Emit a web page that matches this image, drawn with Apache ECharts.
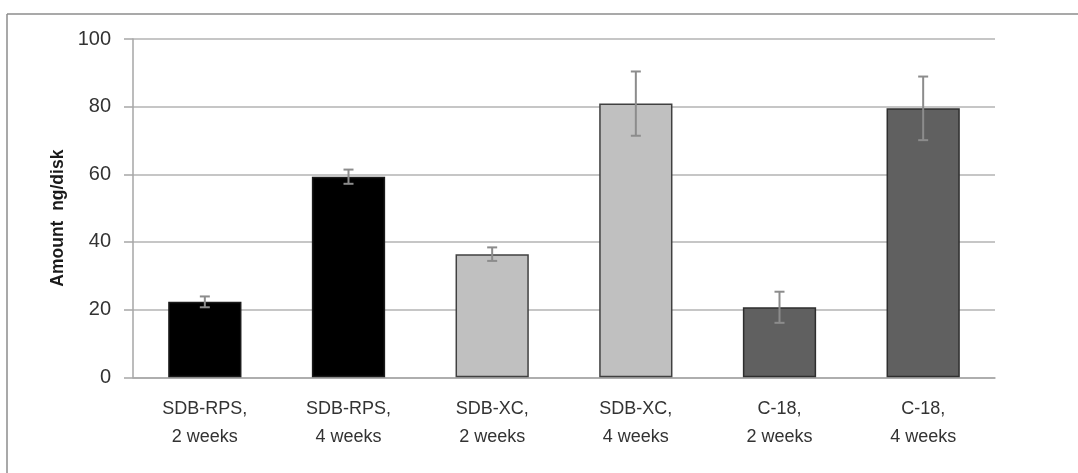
<!DOCTYPE html>
<html>
<head>
<meta charset="utf-8">
<script src="https://cdn.jsdelivr.net/npm/echarts@6/dist/echarts.min.js"></script>
<style>
  html, body { margin: 0; padding: 0; background: #ffffff; }
  #chart { width: 1078px; height: 473px; }
</style>
</head>
<body>
<div id="chart"></div>
<script>
// Sorbent disk uptake after 2 and 4 weeks of deployment
const categories = ['SDB-RPS,\n2 weeks', 'SDB-RPS,\n4 weeks', 'SDB-XC,\n2 weeks', 'SDB-XC,\n4 weeks', 'C-18,\n2 weeks', 'C-18,\n4 weeks'];
const amounts = [22.3, 59.3, 36.4, 80.9, 20.7, 79.5];
const errors = [1.6, 2.1, 2.0, 9.5, 4.6, 9.4];
const barColors = ['#000000', '#000000', '#c0c0c0', '#c0c0c0', '#606060', '#606060'];
const barBorders = ['#1a1a1a', '#1a1a1a', '#404040', '#404040', '#2e2e2e', '#2e2e2e'];
const yTicks = [0, 20, 40, 60, 80, 100];

const chart = echarts.init(document.getElementById('chart'), null, { renderer: 'canvas' });

const FONT = '"Liberation Sans", Arial, sans-serif';

chart.setOption({
  animation: false,
  backgroundColor: '#ffffff',
  graphic: [
    { type: 'line', shape: { x1: 7, y1: 14, x2: 1078, y2: 14 }, style: { stroke: '#8c8c8c', lineWidth: 1.5 } },
    { type: 'line', shape: { x1: 7, y1: 14, x2: 7, y2: 473 }, style: { stroke: '#8c8c8c', lineWidth: 1.5 } }
  ],
  grid: { left: 133, right: 83, top: 39, bottom: 95.7, containLabel: false },
  xAxis: {
    type: 'category',
    data: categories,
    axisLine: { show: true, lineStyle: { color: '#a6a6a6', width: 1.5 } },
    axisTick: { show: false },
    axisLabel: {
      color: '#333333', fontFamily: FONT, fontSize: 18, lineHeight: 28, margin: 18, interval: 0
    }
  },
  yAxis: {
    type: 'value',
    min: yTicks[0],
    max: yTicks[yTicks.length - 1],
    interval: 20,
    name: 'Amount  ng/disk',
    nameLocation: 'middle',
    nameGap: 66,
    nameRotate: 90,
    nameTextStyle: {
      color: '#1a1a1a', fontFamily: FONT, fontSize: 17.5, fontWeight: 'bold',
      padding: [0, 20, 0, 0]
    },
    axisLine: { show: true, lineStyle: { color: '#a6a6a6', width: 1.5 } },
    axisTick: { show: true, inside: false, length: 9, lineStyle: { color: '#a6a6a6', width: 1.5 } },
    splitLine: { show: true, lineStyle: { color: '#b3b3b3', width: 1.5 } },
    axisLabel: { color: '#333333', fontFamily: FONT, fontSize: 20, margin: 22 }
  },
  series: [
    {
      type: 'bar',
      barWidth: '51%',
      data: amounts.map((v, i) => ({
        value: v,
        itemStyle: { color: barColors[i], borderColor: barBorders[i], borderWidth: 1.5 }
      })),
      z: 2
    },
    {
      type: 'custom',
      z: 3,
      data: amounts.map((v, i) => [i, v - errors[i], v + errors[i]]),
      renderItem: function (params, api) {
        const x = api.value(0);
        const lo = api.coord([x, api.value(1)]);
        const hi = api.coord([x, api.value(2)]);
        const half = 5;
        const style = { stroke: '#8c8c8c', lineWidth: 2 };
        return {
          type: 'group',
          children: [
            { type: 'line', shape: { x1: hi[0], y1: hi[1], x2: lo[0], y2: lo[1] }, style: style },
            { type: 'line', shape: { x1: hi[0] - half, y1: hi[1], x2: hi[0] + half, y2: hi[1] }, style: style },
            { type: 'line', shape: { x1: lo[0] - half, y1: lo[1], x2: lo[0] + half, y2: lo[1] }, style: style }
          ]
        };
      }
    }
  ]
});
</script>
</body>
</html>
